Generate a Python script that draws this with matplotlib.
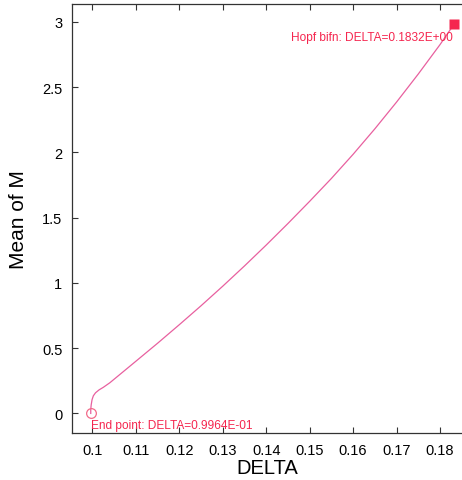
import matplotlib
matplotlib.use("Agg")
import matplotlib.pyplot as plt

# branch data
delta = [0.0996, 0.0996, 0.0997, 0.0999, 0.1002, 0.1007, 0.1015, 0.1025,
         0.104, 0.106, 0.108, 0.110, 0.115, 0.120, 0.125, 0.130, 0.135,
         0.140, 0.145, 0.150, 0.155, 0.160, 0.165, 0.170, 0.175, 0.180,
         0.1832]
mean_m = [0.0, 0.03, 0.065, 0.105, 0.135, 0.158, 0.18, 0.20,
          0.235, 0.29, 0.345, 0.40, 0.538, 0.68, 0.825, 0.975, 1.13,
          1.29, 1.455, 1.625, 1.80, 1.985, 2.18, 2.385, 2.60, 2.825,
          2.98]

end_point = (0.0996, 0.0)
hopf_point = (0.1832, 2.98)
end_label = "End point: DELTA=0.9964E-01"
hopf_label = "Hopf bifn: DELTA=0.1832E+00"

xticks = [0.10, 0.11, 0.12, 0.13, 0.14, 0.15, 0.16, 0.17, 0.18]
xticklabels = ["0.1", "0.11", "0.12", "0.13", "0.14", "0.15", "0.16", "0.17", "0.18"]
yticks = [0, 0.5, 1, 1.5, 2, 2.5, 3]
yticklabels = ["0", "0.5", "1", "1.5", "2", "2.5", "3"]

plt.rcParams['font.family'] = ['Liberation Sans', 'DejaVu Sans']

fig = plt.figure(figsize=(4.62, 4.81), dpi=100)
ax = fig.add_axes([0.156, 0.098, 0.844, 0.892])

ax.plot(delta, mean_m, color='#e8609f', lw=0.9)
ax.plot(*end_point, marker='o', ms=7, mfc='none', mec='#f26b8a', mew=0.9)
ax.plot(*hopf_point, marker='s', ms=7, color='#f5264f', mec='none')

ax.text(end_point[0], -0.085, end_label, color='#f5264f', fontsize=8.6,
        ha='left', va='center')
ax.text(0.1829, 2.88, hopf_label, color='#f5264f', fontsize=8.6,
        ha='right', va='center')

ax.set_xlim(0.0953, 0.18507)
ax.set_ylim(-0.149, 3.138)
ax.set_xticks(xticks, xticklabels)
ax.set_yticks(yticks, yticklabels)
ax.tick_params(direction='in', length=4, width=0.8, labelsize=10.5, top=True,
               colors='#333333', labelcolor='black', pad=7)
ax.spines['right'].set_visible(False)
for s in ['left', 'top', 'bottom']:
    ax.spines[s].set_color('#333333')
    ax.spines[s].set_linewidth(0.9)

ax.set_xlabel("DELTA", fontsize=14.5, labelpad=1)
ax.set_ylabel("Mean of M", fontsize=15, labelpad=10)

fig.savefig("out.png", dpi=100)
